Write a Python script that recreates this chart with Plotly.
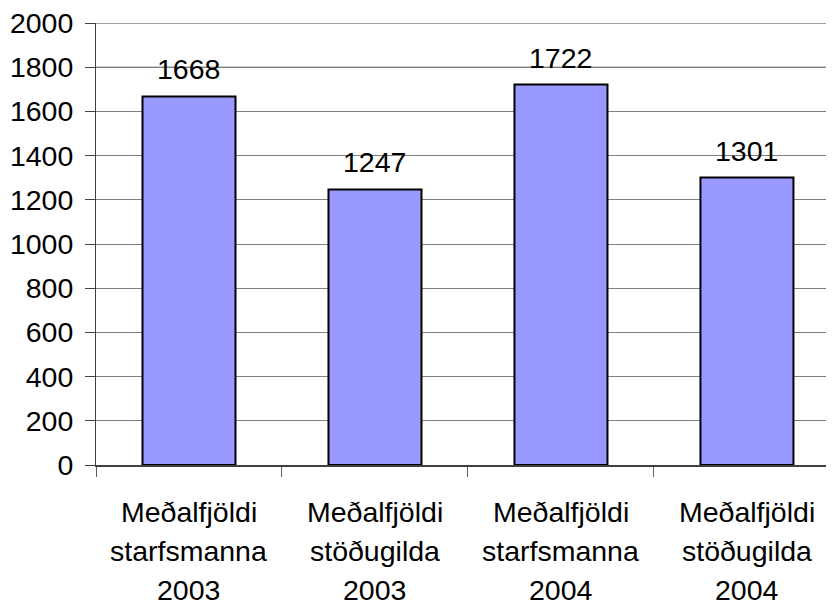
import plotly.graph_objects as go

categories = ["Meðalfjöldi\nstarfsmanna\n2003", "Meðalfjöldi\nstöðugilda\n2003",
              "Meðalfjöldi\nstarfsmanna\n2004", "Meðalfjöldi\nstöðugilda\n2004"]
values = [1668, 1247, 1722, 1301]
y_ticks = [0, 200, 400, 600, 800, 1000, 1200, 1400, 1600, 1800, 2000]

font = dict(family="Liberation Sans, Arial, sans-serif", size=28.5, color="black")
xpos = list(range(len(categories)))

fig = go.Figure(go.Bar(
    x=xpos, y=values, width=0.5,
    marker=dict(color="#9999FF", line=dict(color="black", width=2)),
))

# value labels over bars
for x, v in zip(xpos, values):
    fig.add_annotation(x=x, y=v, text=str(v), showarrow=False, yanchor="bottom",
                       yshift=9, font=font)

# category labels, one line at a time
for x, c in zip(xpos, categories):
    for i, line in enumerate(c.split("\n")):
        fig.add_annotation(x=x, xref="x", y=0, yref="paper", text=line, showarrow=False,
                           yanchor="middle", yshift=-47 - i * 39, font=font)

# the odd black gridline at 1800, and the top gridline
fig.add_shape(type="line", xref="paper", x0=0, x1=1, y0=1800, y1=1800,
              line=dict(color="black", width=1), layer="below")
fig.add_shape(type="line", xref="paper", x0=0, x1=1, y0=y_ticks[-1], y1=y_ticks[-1],
              line=dict(color="#808080", width=1.5), layer="below")

# page has an 8px body margin, so the figure is a bit smaller than the window
fig.update_layout(
    width=826, height=592,
    margin=dict(l=88, r=0, t=15, b=135, autoexpand=False),
    paper_bgcolor="white", plot_bgcolor="white",
    showlegend=False, font=font,
    xaxis=dict(range=[-0.5, 3.468], tickvals=[-0.5, 0.5, 1.5, 2.5, 3.5], showticklabels=False,
               ticks="outside", ticklen=10, tickcolor="#606060", showline=True,
               linecolor="#404040", linewidth=2, showgrid=False, zeroline=False,
               automargin=False),
    yaxis=dict(range=[0, 2000.5], tickvals=y_ticks, ticks="outside", ticklen=10,
               tickcolor="#404040", showline=True, linecolor="#404040", linewidth=1,
               showgrid=True, gridcolor="#808080", gridwidth=1, zeroline=False,
               ticklabelstandoff=6, automargin=False, ticklabeloverflow="allow"),
)

fig.write_html("out.html")
